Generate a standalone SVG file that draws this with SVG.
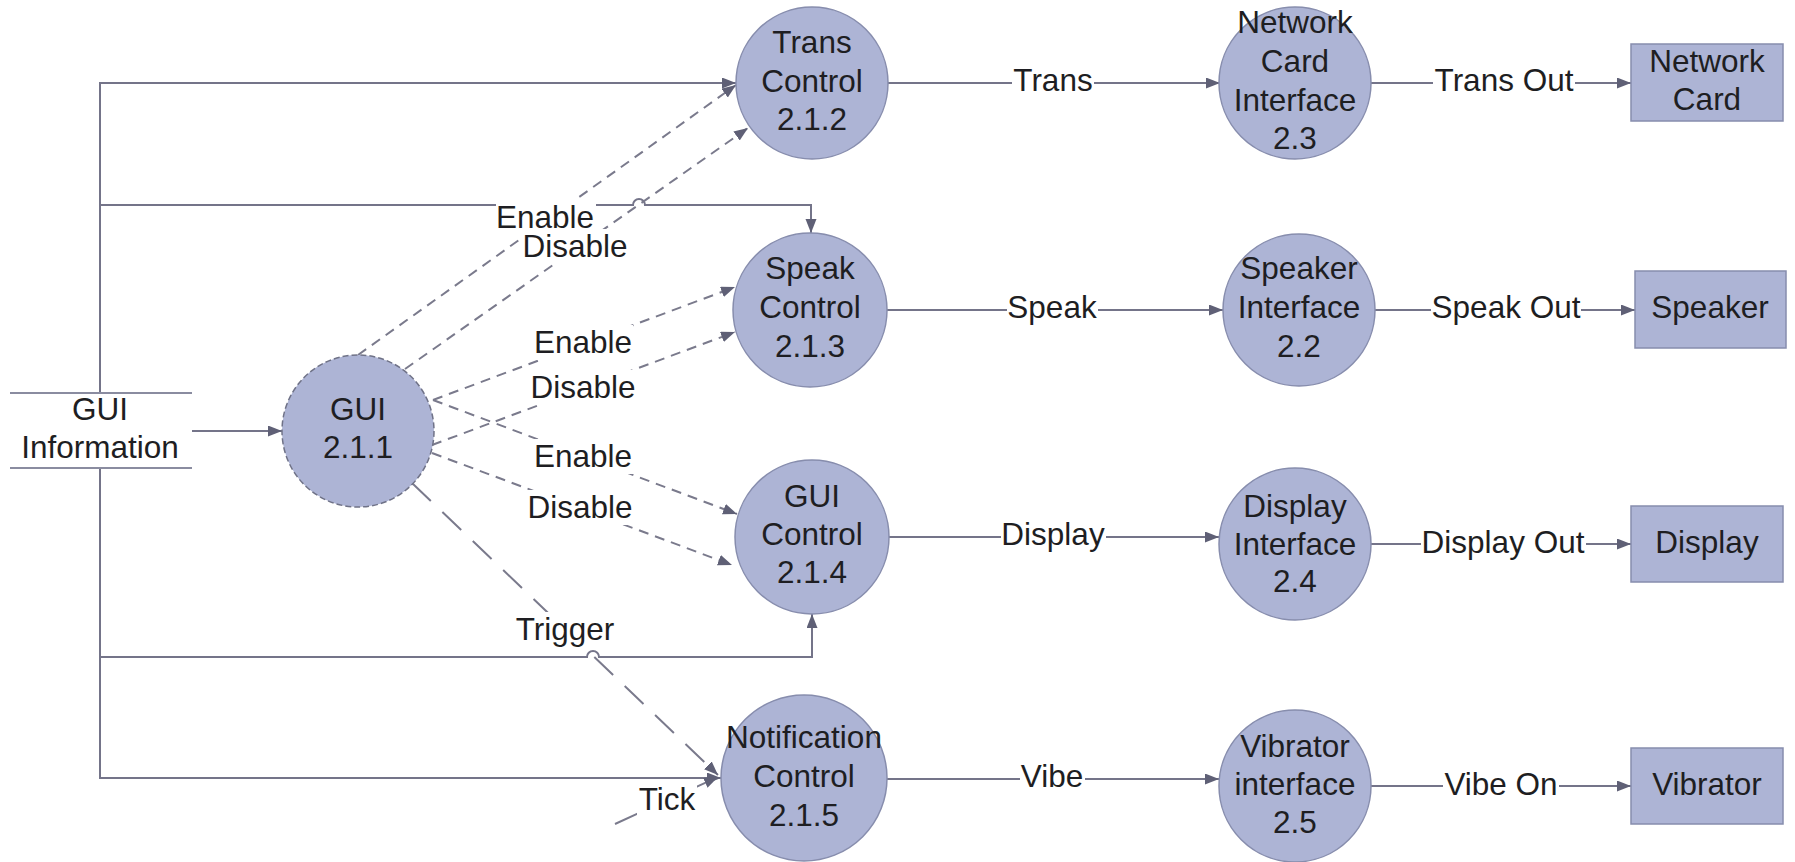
<svg xmlns="http://www.w3.org/2000/svg" width="1795" height="862" viewBox="0 0 1795 862">
  <style>
    text { font-family: "Liberation Sans", Arial, sans-serif; font-size: 31.5px; fill: #1e1e22; text-anchor: middle; }
    .proc { fill: #adb4d5; stroke: #878dad; stroke-width: 1.5; }
    .proc-dash { fill: #adb4d5; stroke: #6f7287; stroke-width: 1.5; stroke-dasharray: 6 3; }
    .ext { fill: #adb4d5; stroke: #878dad; stroke-width: 1.5; }
    .store { stroke: #8a8ca0; stroke-width: 2; fill: none; }
    .flow { fill: none; stroke: #747489; stroke-width: 2; }
    .ctl { fill: none; stroke: #7a7a8c; stroke-width: 2; stroke-dasharray: 10 7; }
    .evt { fill: none; stroke: #7a7a8c; stroke-width: 2; stroke-dasharray: 26 16; }
    .lblbg { fill: #ffffff; }
  </style>
  <defs>
    <marker id="arrow" markerUnits="userSpaceOnUse" markerWidth="16" markerHeight="12" refX="14" refY="5.5" orient="auto">
      <path d="M0,0 L14,5.5 L0,11 Z" fill="#5f6076"/>
    </marker>
  </defs>

  <rect width="1795" height="862" fill="#ffffff"/>

  <!-- connectors -->
  <g id="connectors">
    <!-- data store feed and bus -->
    <path class="flow" d="M192,431 H282" marker-end="url(#arrow)"/>
    <path class="flow" d="M100,393 V83 H736" marker-end="url(#arrow)"/>
    <path class="flow" d="M100,205 H633 A6,6 0 0 1 645,205 H811 V233" marker-end="url(#arrow)"/>
    <path class="flow" d="M100,468 V778 H721" marker-end="url(#arrow)"/>
    <path class="flow" d="M100,657 H587 A6,6 0 0 1 599,657 H812 V614" marker-end="url(#arrow)"/>

    <!-- control flows from GUI 2.1.1 -->
    <path class="ctl" d="M358,355 L736,85" marker-end="url(#arrow)"/>
    <path class="ctl" d="M405,369 L748,128" marker-end="url(#arrow)"/>
    <path class="ctl" d="M433,400 L735,287" marker-end="url(#arrow)"/>
    <path class="ctl" d="M432,445 L735,332" marker-end="url(#arrow)"/>
    <path class="ctl" d="M433,400 L737,514" marker-end="url(#arrow)"/>
    <path class="ctl" d="M432,453 L732,565" marker-end="url(#arrow)"/>
    <path class="evt" d="M412,483 L718,775" marker-end="url(#arrow)"/>
    <path class="evt" d="M615,824 L718,777" marker-end="url(#arrow)"/>

    <!-- data flows to interfaces -->
    <path class="flow" d="M888,83 H1220" marker-end="url(#arrow)"/>
    <path class="flow" d="M887,310 H1223" marker-end="url(#arrow)"/>
    <path class="flow" d="M889,537 H1219" marker-end="url(#arrow)"/>
    <path class="flow" d="M887,779 H1219" marker-end="url(#arrow)"/>

    <!-- outputs to devices -->
    <path class="flow" d="M1370,83 H1631" marker-end="url(#arrow)"/>
    <path class="flow" d="M1375,310 H1635" marker-end="url(#arrow)"/>
    <path class="flow" d="M1371,544 H1631" marker-end="url(#arrow)"/>
    <path class="flow" d="M1371,786 H1631" marker-end="url(#arrow)"/>

    <!-- labels -->
    <g id="labels">
      <rect class="lblbg" x="496" y="200" width="100" height="35"/>
      <text x="545" y="228">Enable</text>
      <rect class="lblbg" x="522" y="229" width="107" height="35"/>
      <text x="575" y="257">Disable</text>
      <rect class="lblbg" x="533" y="325" width="100" height="35"/>
      <text x="583" y="353">Enable</text>
      <rect class="lblbg" x="530" y="370" width="107" height="35"/>
      <text x="583" y="398">Disable</text>
      <rect class="lblbg" x="533" y="439" width="100" height="35"/>
      <text x="583" y="467">Enable</text>
      <rect class="lblbg" x="527" y="490" width="107" height="35"/>
      <text x="580" y="518">Disable</text>
      <rect class="lblbg" x="515" y="612" width="101" height="35"/>
      <text x="565" y="640">Trigger</text>
      <rect class="lblbg" x="637" y="782" width="60" height="34"/>
      <text x="667" y="810">Tick</text>

      <rect class="lblbg" x="1012" y="63" width="82" height="35"/>
      <text x="1053" y="91">Trans</text>
      <rect class="lblbg" x="1433" y="63" width="142" height="35"/>
      <text x="1504" y="91">Trans Out</text>
      <rect class="lblbg" x="1007" y="290" width="91" height="35"/>
      <text x="1052" y="318">Speak</text>
      <rect class="lblbg" x="1431" y="290" width="150" height="35"/>
      <text x="1506" y="318">Speak Out</text>
      <rect class="lblbg" x="1001" y="517" width="105" height="35"/>
      <text x="1053" y="545">Display</text>
      <rect class="lblbg" x="1421" y="525" width="165" height="35"/>
      <text x="1503" y="553">Display Out</text>
      <rect class="lblbg" x="1020" y="759" width="65" height="35"/>
      <text x="1052" y="787">Vibe</text>
      <rect class="lblbg" x="1443" y="767" width="116" height="35"/>
      <text x="1501" y="795">Vibe On</text>
    </g>
  </g>

  <!-- data store -->
  <g id="gui-information">
    <line class="store" x1="10" y1="393" x2="192" y2="393"/>
    <line class="store" x1="10" y1="468" x2="192" y2="468"/>
    <text x="100" y="420">GUI</text>
    <text x="100" y="458">Information</text>
  </g>

  <!-- processes -->
  <g id="gui-2-1-1">
    <circle class="proc-dash" cx="358" cy="431" r="76"/>
    <text x="358" y="420">GUI</text>
    <text x="358" y="458">2.1.1</text>
  </g>
  <g id="trans-control">
    <circle class="proc" cx="812" cy="83" r="76"/>
    <text x="812" y="53">Trans</text>
    <text x="812" y="92">Control</text>
    <text x="812" y="130">2.1.2</text>
  </g>
  <g id="speak-control">
    <circle class="proc" cx="810" cy="310" r="77"/>
    <text x="810" y="279">Speak</text>
    <text x="810" y="318">Control</text>
    <text x="810" y="357">2.1.3</text>
  </g>
  <g id="gui-control">
    <circle class="proc" cx="812" cy="537" r="77"/>
    <text x="812" y="507">GUI</text>
    <text x="812" y="545">Control</text>
    <text x="812" y="583">2.1.4</text>
  </g>
  <g id="notification-control">
    <circle class="proc" cx="804" cy="778" r="83"/>
    <text x="804" y="748">Notification</text>
    <text x="804" y="787">Control</text>
    <text x="804" y="826">2.1.5</text>
  </g>

  <!-- interfaces -->
  <g id="network-card-interface">
    <circle class="proc" cx="1295" cy="83" r="76"/>
    <text x="1295" y="33">Network</text>
    <text x="1295" y="72">Card</text>
    <text x="1295" y="111">Interface</text>
    <text x="1295" y="149">2.3</text>
  </g>
  <g id="speaker-interface">
    <circle class="proc" cx="1299" cy="310" r="76"/>
    <text x="1299" y="279">Speaker</text>
    <text x="1299" y="318">Interface</text>
    <text x="1299" y="357">2.2</text>
  </g>
  <g id="display-interface">
    <circle class="proc" cx="1295" cy="544" r="76"/>
    <text x="1295" y="517">Display</text>
    <text x="1295" y="555">Interface</text>
    <text x="1295" y="592">2.4</text>
  </g>
  <g id="vibrator-interface">
    <circle class="proc" cx="1295" cy="786" r="76"/>
    <text x="1295" y="757">Vibrator</text>
    <text x="1295" y="795">interface</text>
    <text x="1295" y="833">2.5</text>
  </g>

  <!-- external devices -->
  <g id="network-card">
    <rect class="ext" x="1631" y="44" width="152" height="77"/>
    <text x="1707" y="72">Network</text>
    <text x="1707" y="110">Card</text>
  </g>
  <g id="speaker">
    <rect class="ext" x="1635" y="271" width="151" height="77"/>
    <text x="1710" y="318">Speaker</text>
  </g>
  <g id="display">
    <rect class="ext" x="1631" y="506" width="152" height="76"/>
    <text x="1707" y="553">Display</text>
  </g>
  <g id="vibrator">
    <rect class="ext" x="1631" y="748" width="152" height="76"/>
    <text x="1707" y="795">Vibrator</text>
  </g>
</svg>
